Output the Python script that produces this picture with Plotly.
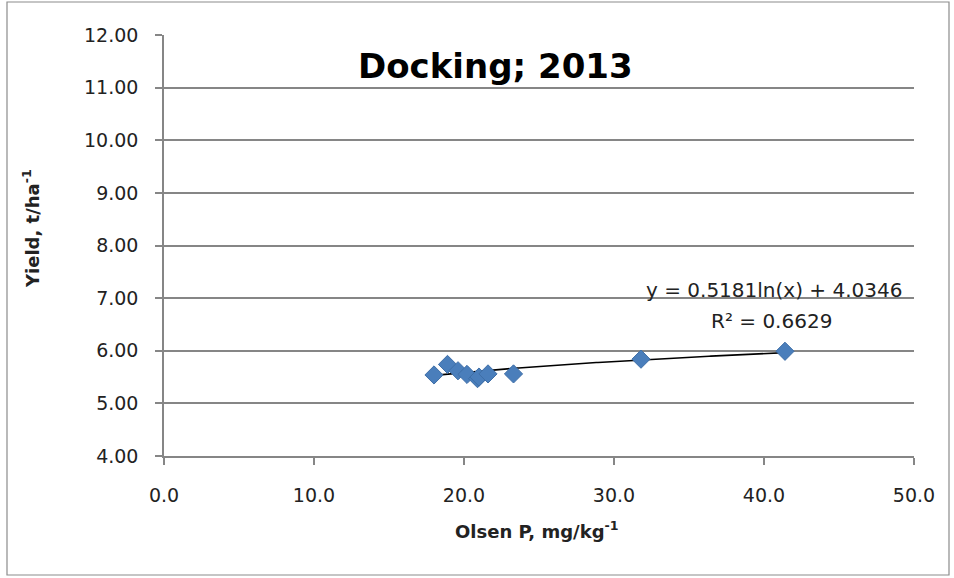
import numpy as np
import plotly.graph_objects as go

olsen_p = [18.0, 18.9, 19.6, 20.2, 20.9, 21.0, 21.6, 23.3, 31.8, 41.4]
yield_t = [5.54, 5.74, 5.62, 5.55, 5.47, 5.50, 5.56, 5.56, 5.84, 5.99]
coef_a = 0.5181
coef_b = 4.0346
r2 = 0.6629
x_ticks = [0, 10, 20, 30, 40, 50]
y_ticks = [4, 5, 6, 7, 8, 9, 10, 11, 12]

FONT = "DejaVu Sans"
W, H = 954, 578
L, R, T, B = 164, 40, 35, 122

tx = np.linspace(min(olsen_p), max(olsen_p), 200)
ty = coef_a * np.log(tx) + coef_b

fig = go.Figure()
fig.add_trace(go.Scatter(x=tx, y=ty, mode="lines",
                         line=dict(color="black", width=1.6), hoverinfo="skip"))
fig.add_trace(go.Scatter(x=olsen_p, y=yield_t, mode="markers",
                         marker=dict(symbol="diamond", size=14, color="#4a7ebb",
                                     line=dict(color="#3f6fa8", width=1))))

pw = W - L - R
ph = H - T - B
def px2paper_x(p):
    return (p - L) / pw
def px2paper_y(p):
    return (H - B - p) / ph

fig.add_shape(type="rect", xref="paper", yref="paper",
              x0=px2paper_x(7), x1=px2paper_x(949), y0=px2paper_y(575), y1=px2paper_y(2),
              line=dict(color="#8c8c8c", width=1.2), layer="below")

def ann(xp, yp, text, size, color="#222", angle=0):
    fig.add_annotation(x=px2paper_x(xp), y=px2paper_y(yp), xref="paper", yref="paper",
                       xanchor="center", yanchor="middle", textangle=angle,
                       text=text, showarrow=False,
                       font=dict(family=FONT, size=size, color=color))

ann(495, 66, "<b>Docking; 2013</b>", 34, "black")
ann(774, 290, f"y = {coef_a}ln(x) + {coef_b}", 20)
ann(771, 321, f"R² = {r2}", 20)
ann(537, 530, "<b>Olsen P, mg/kg<sup>-1</sup></b>", 18)
ann(31, 229, "<b>Yield, t/ha<sup>-1</sup></b>", 18, angle=-90)

fig.update_layout(
    width=W, height=H,
    margin=dict(l=L, r=R, t=T, b=B),
    paper_bgcolor="white", plot_bgcolor="white",
    showlegend=False,
    font=dict(family=FONT, color="#222"),
    xaxis=dict(range=[0, 50], tickvals=x_ticks, ticktext=[f"{v:.1f}" for v in x_ticks],
               showgrid=False, zeroline=False, showline=True, linecolor="#868686", linewidth=1.5,
               ticks="outside", ticklen=7, tickcolor="#868686", tickwidth=1.5,
               ticklabelstandoff=14, tickfont=dict(size=19, color="#222")),
    yaxis=dict(range=[4, 12], tickvals=y_ticks, ticktext=[f"{v:.2f}" for v in y_ticks],
               showgrid=True, gridcolor="#868686", gridwidth=1.5, zeroline=False,
               showline=True, linecolor="#868686", linewidth=1.5,
               ticks="outside", ticklen=7, tickcolor="#868686", tickwidth=1.5,
               ticklabelstandoff=13, tickfont=dict(size=19, color="#222")),
)

fig.write_html("out.html")
